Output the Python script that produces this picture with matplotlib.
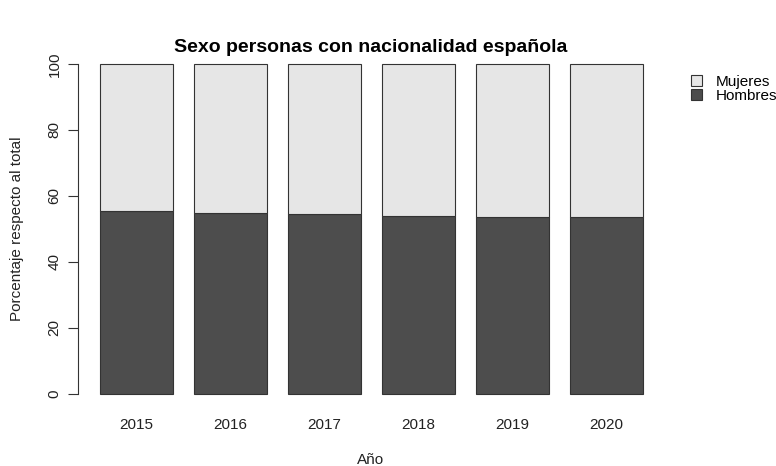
import numpy as np
import matplotlib.pyplot as plt

plt.rcParams['font.family'] = ['Liberation Sans', 'DejaVu Sans']

years = ['2015', '2016', '2017', '2018', '2019', '2020']
hombres = [55.5, 54.9, 54.6, 54.0, 53.6, 53.6]
mujeres = [100 - h for h in hombres]

fig = plt.figure(figsize=(7.76, 4.66), dpi=100)
ax = fig.add_axes([0.1009, 0.1262, 0.7557, 0.7648])

x = np.arange(len(years))
ax.bar(x, hombres, width=0.78, color='#4d4d4d', edgecolor='#333333', linewidth=0.8, label='Hombres')
ax.bar(x, mujeres, width=0.78, bottom=hombres, color='#e6e6e6', edgecolor='#333333', linewidth=0.8, label='Mujeres')

ax.set_xlim(-0.62, 5.617)
ax.set_ylim(-4, 104)
for s in ['top', 'right', 'bottom']:
    ax.spines[s].set_visible(False)
ax.spines['left'].set_bounds(0, 100)
ax.spines['left'].set_color('#333333')
ax.set_yticks([0, 20, 40, 60, 80, 100])
ax.set_yticklabels(['0', '20', '40', '60', '80', '100'], rotation=90, va='center')
ax.tick_params(axis='y', length=7, width=0.8, color='#333333', labelsize=11, labelcolor='#222222', pad=5)
ax.set_xticks(x)
ax.set_xticklabels(years)
ax.tick_params(axis='x', length=0, labelsize=11, labelcolor='#222222', pad=8)

fig.text(0.478, 1 - 47 / 466, 'Sexo personas con nacionalidad española',
         fontsize=14, fontweight='bold', ha='center', va='center')
fig.text(0.478, 1 - 460 / 466, 'Año', fontsize=11, color='#222222', ha='center', va='center')
fig.text(17 / 776, 0.1262 + 0.7648 / 2, 'Porcentaje respecto al total', fontsize=11,
         color='#222222', rotation=90, ha='center', va='center')

handles, labels = ax.get_legend_handles_labels()
ax.legend(handles[::-1], labels[::-1], loc='upper left', bbox_to_anchor=(1.035, 0.95),
          frameon=False, fontsize=11, handlelength=0.7, handleheight=0.7,
          handletextpad=0.9, labelspacing=0.0, borderaxespad=0)

fig.savefig('out.png', dpi=100)
